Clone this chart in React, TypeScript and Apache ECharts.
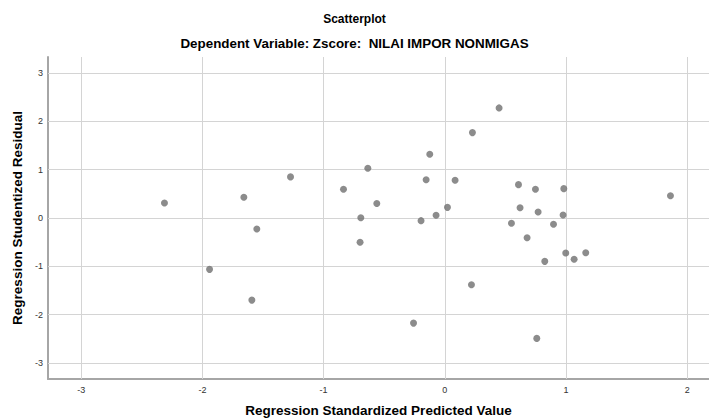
import React, { useEffect, useRef } from "react";
import * as echarts from "echarts";

const predicted: number[] = [
  -2.313, -1.941, -1.658, -1.551, -1.592, -1.273, -0.836, -0.635, -0.561, -0.693,
  -0.699, -0.124, -0.154, 0.085, 0.022, -0.072, -0.196, -0.258, 0.22, 0.448,
  0.228, 0.608, 0.748, 0.982, 1.862, 0.621, 0.77, 0.976, 0.55, 0.897,
  0.679, 0.998, 1.163, 1.067, 0.825, 0.759,
];
const residual: number[] = [
  0.31, -1.062, 0.43, -0.228, -1.698, 0.85, 0.594, 1.03, 0.3, 0.006,
  -0.5, 1.32, 0.79, 0.78, 0.22, 0.056, -0.055, -2.174, -1.38, 2.277,
  1.766, 0.69, 0.594, 0.607, 0.462, 0.213, 0.124, 0.062, -0.11, -0.13,
  -0.408, -0.725, -0.718, -0.855, -0.897, -2.49,
];
const xTicks: number[] = [-3, -2, -1, 0, 1, 2];
const yTicks: number[] = [-3, -2, -1, 0, 1, 2, 3];

const titleText = "Scatterplot";
const subtitleText = "Dependent Variable: Zscore:  NILAI IMPOR NONMIGAS";
const xName = "Regression Standardized Predicted Value";
const yName = "Regression Studentized Residual";

const FONT = "'Liberation Sans', Arial, sans-serif";

export default function App() {
  const ref = useRef<HTMLDivElement>(null);
  useEffect(() => {
    document.body.style.margin = "0";
    if (!ref.current) return;
    const chart = echarts.init(ref.current, null, { renderer: "svg" });
    const points = predicted.map((x, i) => [x, residual[i]]);
    const gridStyle = { color: "#d4d4d4", width: 1, type: "solid" as const };
    chart.setOption({
      animation: false,
      backgroundColor: "#ffffff",
      title: [
        {
          text: titleText,
          left: "center",
          top: 8,
          textStyle: { fontFamily: FONT, fontSize: 12, fontWeight: "bold", color: "#000" },
        },
        {
          text: subtitleText,
          left: "center",
          top: 32,
          textStyle: { fontFamily: FONT, fontSize: 13.4, fontWeight: "bold", color: "#000" },
        },
      ],
      grid: {
        left: 48,
        right: 0,
        top: 57,
        bottom: 41,
        containLabel: false,
        outerBoundsMode: "none",
      },
      xAxis: {
        type: "value",
        min: -3.274,
        max: 2.18,
        name: xName,
        nameLocation: "middle",
        nameGap: 24,
        nameTextStyle: { fontFamily: FONT, fontSize: 13.5, fontWeight: "bold", color: "#000" },
        axisLine: { show: true, onZero: false, lineStyle: { color: "#a6a6a6", width: 2 } },
        axisTick: { show: false },
        splitLine: { show: false },
        axisLabel: {
          customValues: xTicks,
          fontFamily: FONT,
          fontSize: 9,
          color: "#333",
          margin: 6,
        },
      },
      yAxis: {
        type: "value",
        min: -3.33,
        max: 3.33,
        name: yName,
        nameLocation: "middle",
        nameGap: 22,
        nameTextStyle: { fontFamily: FONT, fontSize: 13.5, fontWeight: "bold", color: "#000" },
        axisLine: { show: true, onZero: false, lineStyle: { color: "#a6a6a6", width: 2 } },
        axisTick: { show: false },
        splitLine: { show: false },
        axisLabel: {
          customValues: yTicks,
          fontFamily: FONT,
          fontSize: 9,
          color: "#333",
          margin: 5,
        },
      },
      series: [
        {
          type: "scatter",
          data: points,
          symbol: "circle",
          symbolSize: 7,
          itemStyle: { color: "#6f6f6f" },
          z: 3,
          markLine: {
            silent: true,
            symbol: ["none", "none"],
            label: { show: false },
            lineStyle: gridStyle,
            z: 1,
            data: [
              ...xTicks.map((v) => ({ xAxis: v })),
              ...yTicks.map((v) => ({ yAxis: v })),
            ],
          },
        },
      ],
    });
    return () => chart.dispose();
  }, []);
  return <div ref={ref} style={{ position: "absolute", left: 0, top: 0, width: 709, height: 420 }} />;
}
